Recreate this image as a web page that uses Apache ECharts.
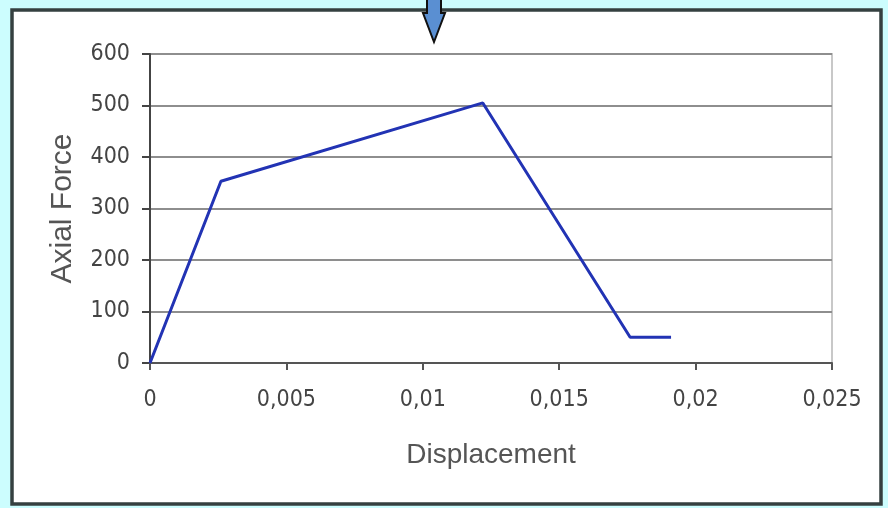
<!DOCTYPE html>
<html>
<head>
<meta charset="utf-8">
<script src="https://cdn.jsdelivr.net/npm/echarts@6/dist/echarts.min.js"></script>
<style>
  html, body { margin: 0; padding: 0; background: #ccfdfe; }
  #chart { width: 888px; height: 508px; }
</style>
</head>
<body>
<div id="chart"></div>
<script>
// Axial force vs. displacement curve
const displacement = [0, 0.0026, 0.0122, 0.0176, 0.0191];
const axialForce   = [0, 353, 505, 50, 50];

const xTicks = { min: 0, max: 0.025, step: 0.005 };
const yTicks = { min: 0, max: 600, step: 100 };

const points = displacement.map((d, i) => [d, axialForce[i]]);

const labelFont = { fontFamily: '"DejaVu Sans Condensed", "Liberation Sans", sans-serif', fontSize: 23, color: '#444' };
const nameFont = { fontFamily: '"Liberation Sans", sans-serif', fontSize: 28, color: '#555' };

const chart = echarts.init(document.getElementById('chart'), null, { renderer: 'canvas' });

chart.setOption({
  backgroundColor: '#ccfdfe',
  animation: false,
  graphic: [
    {
      type: 'rect',
      z: -10,
      silent: true,
      shape: { x: 12, y: 10, width: 869, height: 494 },
      style: { fill: '#ffffff', stroke: '#354040', lineWidth: 3.5 }
    },
    {
      type: 'polygon',
      z: 100,
      silent: true,
      shape: {
        points: [[427, -3], [441, -3], [441, 13], [445, 13], [434, 42], [423, 13], [427, 13]]
      },
      style: { fill: '#5a8fd2', stroke: '#111', lineWidth: 2 }
    }
  ],
  grid: {
    left: 150, right: 56, top: 54, bottom: 145,
    show: true, borderColor: '#c8c8c8', borderWidth: 2, backgroundColor: 'transparent'
  },
  xAxis: {
    type: 'value',
    min: xTicks.min, max: xTicks.max, interval: xTicks.step,
    name: 'Displacement',
    nameLocation: 'middle',
    nameGap: 78,
    nameTextStyle: nameFont,
    axisLine: { show: true, onZero: false, lineStyle: { color: '#555', width: 2 } },
    axisTick: { show: true, length: 7, lineStyle: { color: '#555', width: 2 } },
    axisLabel: Object.assign({
      margin: 26,
      formatter: v => Number(v.toFixed(3)).toString().replace('.', ',')
    }, labelFont),
    splitLine: { show: false }
  },
  yAxis: {
    type: 'value',
    min: yTicks.min, max: yTicks.max, interval: yTicks.step,
    name: 'Axial Force',
    nameLocation: 'middle',
    nameGap: 72,
    nameRotate: 90,
    nameTextStyle: Object.assign({}, nameFont, { fontSize: 30 }),
    axisLine: { show: true, lineStyle: { color: '#444', width: 2 } },
    axisTick: { show: true, length: 8, lineStyle: { color: '#444', width: 2 } },
    axisLabel: Object.assign({ margin: 20 }, labelFont),
    splitLine: { show: true, lineStyle: { color: '#8e8e8e', width: 2 } }
  },
  series: [{
    type: 'line',
    data: points,
    showSymbol: false,
    symbol: 'none',
    lineStyle: { color: '#2233b4', width: 3 },
    z: 5
  }]
});
</script>
</body>
</html>
